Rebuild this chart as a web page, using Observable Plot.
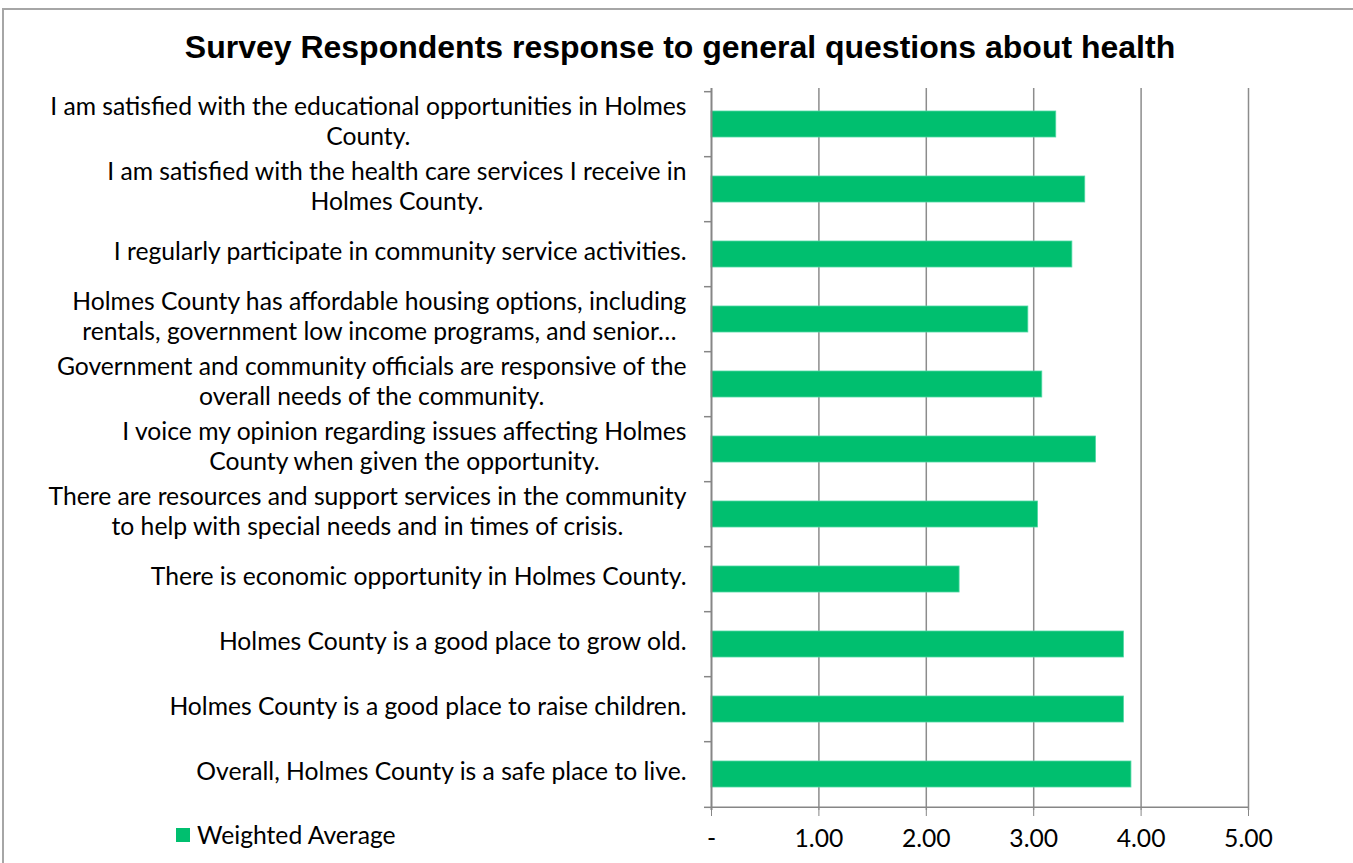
<!DOCTYPE html>
<html>
<head>
<meta charset="utf-8">
<script src="https://cdn.jsdelivr.net/npm/d3@7"></script>
<script src="https://cdn.jsdelivr.net/npm/@observablehq/plot@0.6"></script>
<style>
  html, body { margin: 0; padding: 0; background: #fff; }
  #wrap { position: relative; width: 1353px; height: 863px; overflow: hidden; }
  #border { position: absolute; left: 2px; top: 8px; width: 1400px; height: 900px; border-top: 2px solid #a6a6a6; border-left: 2px solid #a6a6a6; }
  #title { position: absolute; left: 0; top: 28px; width: 1360px; text-align: center; font-family: "Liberation Sans", Arial, sans-serif; font-weight: bold; font-size: 32px; line-height: 38px; color: #000; }
  #legend { position: absolute; left: 176px; top: 821px; font-family: Lato, "Open Sans", sans-serif; font-size: 24.7px; color: #000; display: flex; align-items: center; line-height: 28px; }
  #legend .sw { width: 14px; height: 14px; margin-right: 7px; }
  #chart { position: absolute; left: 0; top: 0; }
</style>
</head>
<body>
<div id="wrap">
  <div id="border"></div>
  <div id="chart"></div>
  <div id="title"></div>
  <div id="legend"></div>
</div>
<script>
const title = "Survey Respondents response to general questions about health";
const seriesName = "Weighted Average";
const seriesColor = "#00BF6F";

const categories = [
  "I am satisfied with the educational opportunities in Holmes County.",
  "I am satisfied with the health care services I receive in Holmes County.",
  "I regularly participate in community service activities.",
  "Holmes County has affordable housing options, including rentals, government low income programs, and senior housing.",
  "Government and community officials are responsive of the overall needs of the community.",
  "I voice my opinion regarding issues affecting Holmes County when given the opportunity.",
  "There are resources and support services in the community to help with special needs and in times of crisis.",
  "There is economic opportunity in Holmes County.",
  "Holmes County is a good place to grow old.",
  "Holmes County is a good place to raise children.",
  "Overall, Holmes County is a safe place to live."
];

const categoryLabels = [
  "I am satisfied with the educational opportunities in Holmes\nCounty.",
  "I am satisfied with the health care services I receive in\nHolmes County.",
  "I regularly participate in community service activities.",
  "Holmes County has affordable housing options, including\nrentals, government low income programs, and senior…",
  "Government and community officials are responsive of the\noverall needs of the community.",
  "I voice my opinion regarding issues affecting Holmes\nCounty when given the opportunity.",
  "There are resources and support services in the community\nto help with special needs and in times of crisis.",
  "There is economic opportunity in Holmes County.",
  "Holmes County is a good place to grow old.",
  "Holmes County is a good place to raise children.",
  "Overall, Holmes County is a safe place to live."
];

const values = [3.21, 3.48, 3.36, 2.95, 3.08, 3.58, 3.04, 2.31, 3.84, 3.84, 3.91];

const xTicks = [0, 1, 2, 3, 4, 5];
const xTickLabels = ["-", "1.00", "2.00", "3.00", "4.00", "5.00"];

const data = categories.map((c, i) => ({category: c, value: values[i]}));

const W = 1353, H = 863, mT = 88, mB = 53, mL = 711, mR = 105;
const step = (H - mT - mB) / categories.length;
const axisColor = "#868686";

const plot = Plot.plot({
  width: W,
  height: H,
  marginTop: mT,
  marginBottom: mB,
  marginLeft: mL,
  marginRight: mR,
  style: {fontFamily: "Lato, 'Open Sans', sans-serif", fontSize: "24.7px", color: "#000", background: "transparent", overflow: "visible"},
  x: {domain: [0, 5], label: null},
  y: {domain: categories, paddingInner: 0.6, paddingOuter: 0.3, label: null},
  marks: [
    Plot.gridX(xTicks.slice(1), {stroke: "#8c8c8c", strokeOpacity: 1, strokeWidth: 1.5}),
    Plot.barX(data, {x: "value", y: "category", fill: seriesColor, stroke: "#4fd8a4", strokeWidth: 0.8}),
    Plot.ruleX([0], {stroke: axisColor, strokeWidth: 2}),
    Plot.ruleY([categories[categories.length - 1]], {x1: 0, x2: 5, dy: step / 2, stroke: axisColor, strokeWidth: 1.5}),
    Plot.ruleY(categories, {y: d => d, x1: -0.065, x2: 0, dy: -step / 2, stroke: axisColor, strokeWidth: 1.5}),
    Plot.ruleY([categories[categories.length - 1]], {x1: -0.065, x2: 0, dy: step / 2, stroke: axisColor, strokeWidth: 1.5}),
    Plot.axisX(xTicks, {tickSize: 6, tickPadding: 13, stroke: axisColor, tickFormat: d => xTickLabels[xTicks.indexOf(d)], fill: "#000"}),
    Plot.axisY({tickSize: 0, tickPadding: 25, textAnchor: "middle", lineHeight: 1.21, fill: "#000",
      tickFormat: d => categoryLabels[categories.indexOf(d)]})
  ]
});

document.getElementById("chart").appendChild(plot);

// right-align each label block while keeping its lines centred on each other
plot.querySelectorAll('g[aria-label="y-axis tick label"] text').forEach(t => {
  const w = t.getBBox().width;
  const tr = t.getAttribute("transform") || "";
  t.setAttribute("transform", tr + ` translate(${-w / 2},-4)`);
});

document.getElementById("title").textContent = title;
const legend = document.getElementById("legend");
const sw = document.createElement("div");
sw.className = "sw";
sw.style.background = seriesColor;
legend.appendChild(sw);
const lt = document.createElement("span");
lt.textContent = seriesName;
legend.appendChild(lt);
</script>
</body>
</html>
